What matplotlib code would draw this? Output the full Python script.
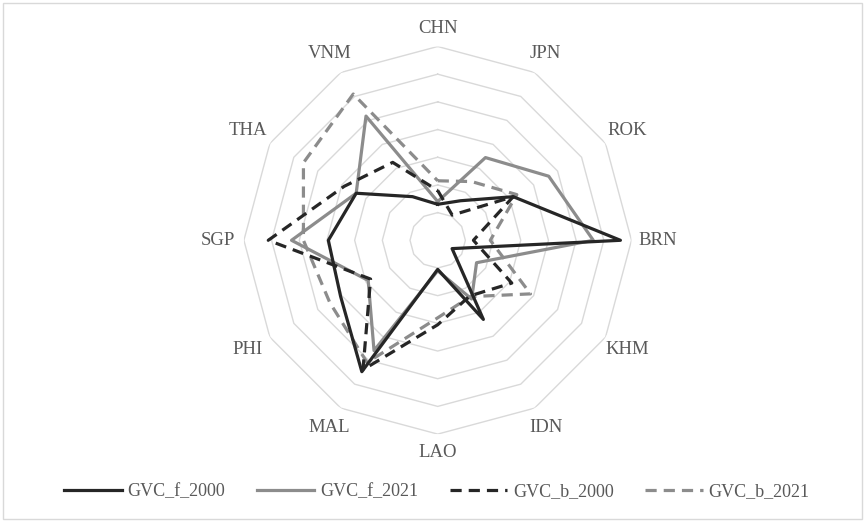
import matplotlib
matplotlib.use("Agg")
import matplotlib.pyplot as plt
from matplotlib.patches import Rectangle
import numpy as np

# categories clockwise from the top
categories = ["CHN", "JPN", "ROK", "BRN", "KHM", "IDN", "LAO", "MAL", "PHI", "SGP", "THA", "VNM"]

gvc_f_2000 = [1.30, 1.65, 3.15, 6.60, 0.60, 3.30, 1.05, 5.48, 4.05, 3.95, 3.40, 1.82]
gvc_f_2021 = [1.40, 3.45, 4.63, 5.62, 1.62, 2.45, 1.10, 4.60, 2.90, 5.28, 3.40, 5.18]
gvc_b_2000 = [1.80, 1.05, 3.15, 1.29, 3.09, 2.32, 3.05, 5.40, 2.80, 6.12, 3.90, 3.25]
gvc_b_2021 = [2.15, 2.45, 3.30, 1.90, 3.87, 2.35, 2.80, 5.10, 4.50, 4.85, 5.60, 6.10]

rings = [1, 2, 3, 4, 5, 6, 7]

W, H = 865, 522
fig = plt.figure(figsize=(W / 100, H / 100), dpi=100)

# chart area border
fig.patches.append(Rectangle((0.004, 0.006), 0.992, 0.988, transform=fig.transFigure,
                             fill=False, edgecolor="#d9d9d9", lw=1))

cx, cy, R = 437.7, H - 240.3, 193.8
ax = fig.add_axes([(cx - R) / W, (cy - R) / H, 2 * R / W, 2 * R / H], projection="polar")
ax.set_theta_zero_location("N")
ax.set_theta_direction(-1)
ax.set_ylim(0, 7)
ax.grid(False)
ax.set_xticks([])
ax.set_yticks([])
ax.spines["polar"].set_visible(False)
ax.patch.set_alpha(0)

n = len(categories)
theta = np.arange(n) * 2 * np.pi / n
theta_c = np.append(theta, theta[0])

for r in rings:
    ax.plot(theta_c, [r] * (n + 1), color="#d9d9d9", lw=1, zorder=1)

def closed(v):
    return list(v) + [v[0]]

dash = (0, (3.5, 2.2))
l1, = ax.plot(theta_c, closed(gvc_f_2000), color="#262626", lw=2.3, label="GVC_f_2000", zorder=4)
l2, = ax.plot(theta_c, closed(gvc_f_2021), color="#8c8c8c", lw=2.3, label="GVC_f_2021", zorder=3)
l3, = ax.plot(theta_c, closed(gvc_b_2000), color="#262626", lw=2.3, ls=dash, label="GVC_b_2000", zorder=4)
l4, = ax.plot(theta_c, closed(gvc_b_2021), color="#8c8c8c", lw=2.3, ls=dash, label="GVC_b_2021", zorder=3)

for t, lab in zip(theta, categories):
    rl = 7.65 + 0.3 * abs(np.sin(t))
    ax.text(t, rl, lab, ha="center", va="center", fontsize=13.5,
            family="Liberation Serif", color="#595959")

fig.legend(handles=[l1, l2, l3, l4], loc="center", bbox_to_anchor=(0.505, 1 - 492 / H),
           ncol=4, frameon=False, handlelength=3.2, handletextpad=0.3, columnspacing=1.75,
           prop={"family": "Liberation Serif", "size": 13}, labelcolor="#595959")

fig.savefig("out.png", dpi=100)
